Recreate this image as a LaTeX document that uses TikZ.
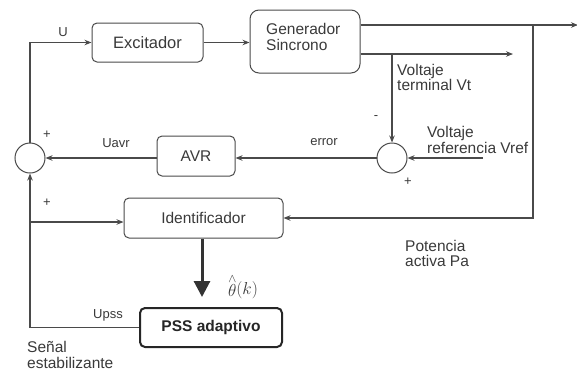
\documentclass[tikz,border=0pt]{standalone}
\usepackage{fontspec}
\setmainfont{Liberation Sans}
\usetikzlibrary{arrows.meta}
\definecolor{ln}{HTML}{4A4A4A}
\definecolor{tx}{HTML}{3A3A3A}
\begin{document}
\begin{tikzpicture}[x=1pt,y=-1pt,
  blk/.style={draw=ln, line width=1pt, rounded corners=5pt, text=tx, inner sep=0pt, font=\fontsize{15.5}{17}\selectfont},
  lbl/.style={text=tx, font=\fontsize{15.5}{15.5}\selectfont, align=left, inner sep=0pt},
  sml/.style={text=tx, font=\fontsize{13}{15}\selectfont, inner sep=0pt},
  sumnode/.style={circle, draw=ln, line width=1pt, minimum size=30pt, inner sep=0pt},
  conn/.style={draw=ln, line width=1.1pt},
  arr/.style={conn, -{Stealth[length=7pt,width=5.5pt]}}]
\useasboundingbox (0,0) rectangle (577,373);
\fill[white] (0,0) rectangle (577,373);
% blocks
\node[blk, minimum width=111pt, minimum height=39pt, font=\fontsize{16.5}{18}\selectfont] (exc) at (147.5,42.5) {Excitador};
\node[blk, rounded corners=9pt, minimum width=110pt, minimum height=63pt] (gen) at (305,41.5) {};
\node[lbl, anchor=west] (gentxt) at (266,37) {Generador\\Sincrono};
\node[blk, minimum width=78pt, minimum height=40pt] (avr) at (196,156) {AVR};
\node[sumnode] (s1) at (30,158) {};
\node[sumnode] (s2) at (392,158) {};
\node[blk, minimum width=159pt, minimum height=40pt] (ide) at (203.5,218) {Identificador};
\node[blk, draw=black!85, line width=2pt, text=black!85, minimum width=142pt, minimum height=39pt, font=\fontsize{15.5}{17}\selectfont\bfseries] (pss) at (211,327.5) {PSS adaptivo};
% coordinates
\coordinate (out1) at (578,25);
\coordinate (out2) at (513,54);
\coordinate (j1) at (533,25);
\coordinate (j2) at (392,54);
\coordinate (vref) at (483,158);
\coordinate (j3) at (30,222);
% connectors
\draw[arr] (s1.north) |- (exc.west);
\draw[arr] (exc.east) -- (exc.east -| gen.west);
\draw[arr] (gen.east |- out1) -- (out1);
\draw[arr] (gen.east |- out2) -- (out2);
\draw[arr] (j2) -- (s2.north);
\draw[arr] (vref) -- (s2.east);
\draw[arr] (s2.west) -- (s2.west -| avr.east);
\draw[arr] (avr.west |- s1) -- (s1.east);
\draw[arr] (j1) |- (ide.east);
\draw[arr] (pss.west) -| (s1.south);
\draw[arr] (j3) -- (j3 -| ide.west);
\draw[draw=black!80, line width=3pt, -{Triangle[length=16pt,width=16pt]}, shorten >=10pt] (ide.south -| 202,0) -- (pss.north -| 202,0);
% labels
\node[sml] (lu) at (63,32) {U};
\node[sml] (luavr) at (116,143) {Uavr};
\node[sml] (lerr) at (324,142) {error};
\node[sml] (lupss) at (108,315) {Upss};
\node[sml] (p1) at (47,135) {+};
\node[sml] (p2) at (47,203) {+};
\node[sml] (m1) at (376,118) {-};
\node[sml] (p3) at (408,182) {+};
\node[lbl, anchor=west] (lvt) at (397,77.5) {Voltaje\\terminal Vt};
\node[lbl, anchor=west] (lvref) at (427,140) {Voltaje\\referencia Vref};
\node[lbl, anchor=west] (lpa) at (405,253.5) {Potencia\\activa Pa};
\node[lbl, anchor=west] (lse) at (27,355) {Señal\\estabilizante};
\node[text=tx, inner sep=0pt, font=\fontsize{18}{20}\selectfont] (lth) at (243,287) {${\stackrel{\wedge}{\theta}}(k)$};
\end{tikzpicture}
\end{document}
